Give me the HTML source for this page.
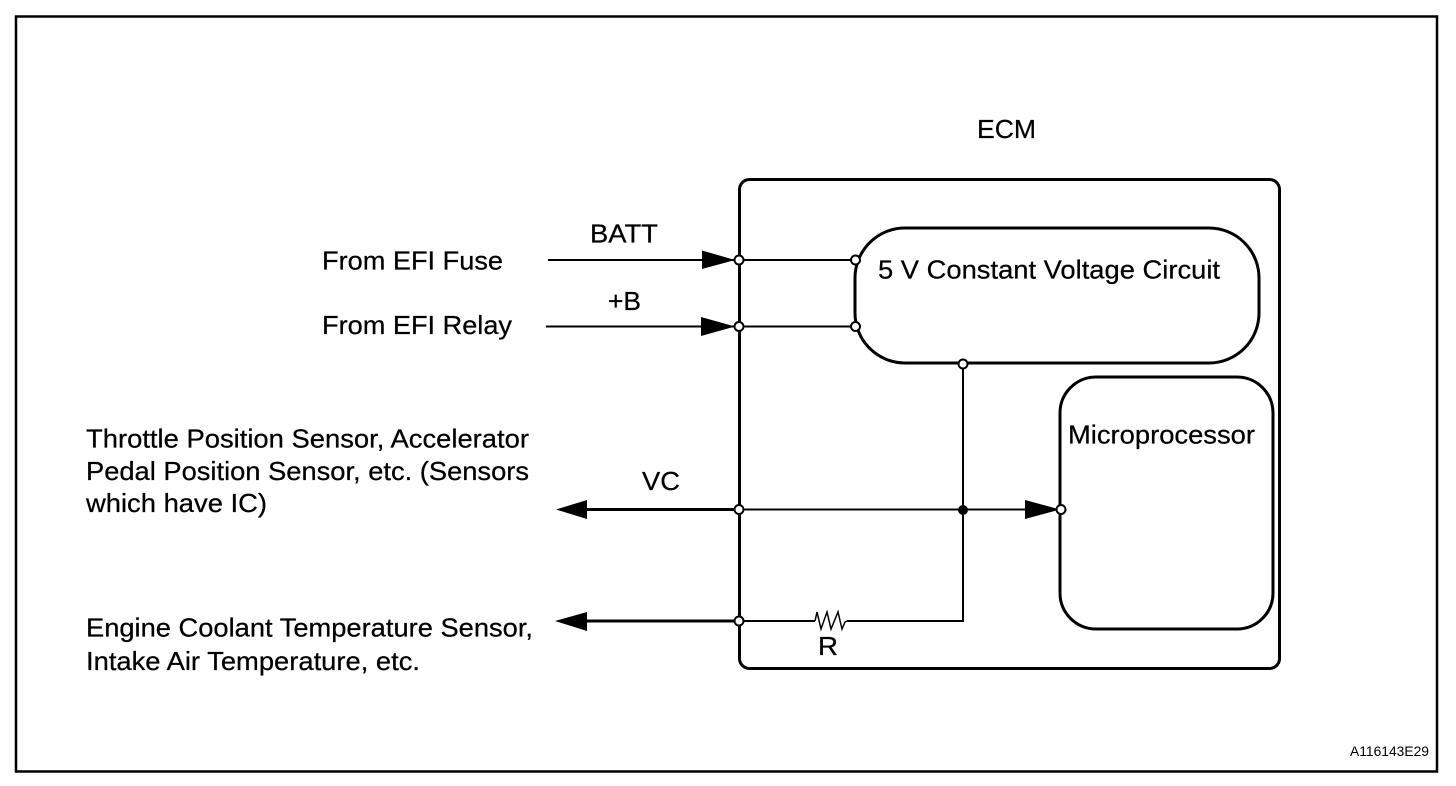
<!DOCTYPE html>
<html>
<head>
<meta charset="utf-8">
<style>
html,body{margin:0;padding:0;background:#fff;}
svg{display:block;}
text{font-family:"Liberation Sans",Arial,sans-serif;font-size:26px;fill:#000;stroke:#000;stroke-width:0.25px;}
</style>
</head>
<body>
<svg width="1456" height="786" viewBox="0 0 1456 786" xmlns="http://www.w3.org/2000/svg">
<rect width="1456" height="786" fill="#fff"/>
<rect x="16" y="16.5" width="1421" height="755" fill="none" stroke="#000" stroke-width="2.5"/>

<!-- ECM box -->
<rect x="739.5" y="179.5" width="540" height="489" rx="10" fill="none" stroke="#000" stroke-width="3"/>
<!-- 5V box -->
<rect x="855" y="228" width="404" height="135" rx="50" fill="none" stroke="#000" stroke-width="3"/>
<!-- Microprocessor box -->
<rect x="1060" y="377" width="213" height="252" rx="36" fill="none" stroke="#000" stroke-width="3"/>

<!-- wires -->
<g fill="none" stroke="#000" stroke-width="2">
<path d="M548 260H855"/>
<path d="M546 326.500H855"/>
<path d="M739 509.500H1060"/>
<path d="M963 363V621H847"/>
<path d="M815 621H739"/>
</g>
<path d="M847 621L845 622L842 629L838 612L831 629L827 612L821 629L817 612L815 621" fill="none" stroke="#000" stroke-width="1.500"/>
<g fill="none" stroke="#000" stroke-width="3">
<path d="M580 509.500H739"/>
<path d="M580 621H739"/>
</g>

<!-- arrowheads -->
<g fill="#000">
<path d="M702 250.500L735 260L702 269Z"/>
<path d="M701 317L735 326.500L701 336Z"/>
<path d="M1025 500L1060 509.500L1025 519Z"/>
<path d="M556 509.500L587 500V519Z"/>
<path d="M555 621L587 612V631Z"/>
<circle cx="963" cy="510" r="5"/>
</g>

<!-- terminals -->
<g fill="#fff" stroke="#000" stroke-width="2">
<circle cx="739" cy="260" r="4.500"/>
<circle cx="739" cy="326.500" r="4.500"/>
<circle cx="739" cy="509.500" r="4.500"/>
<circle cx="739" cy="621" r="4.500"/>
<circle cx="855.500" cy="260" r="4.500"/>
<circle cx="855.500" cy="326.500" r="4.500"/>
<circle cx="963" cy="364" r="4.500"/>
<circle cx="1061" cy="509.500" r="4.500"/>
</g>

<!-- labels -->
<text x="977" y="138" textLength="59" lengthAdjust="spacingAndGlyphs">ECM</text>
<text x="590" y="242.500" textLength="68" lengthAdjust="spacingAndGlyphs">BATT</text>
<text x="608" y="310" textLength="33" lengthAdjust="spacingAndGlyphs">+B</text>
<text x="322" y="269.500" textLength="181" lengthAdjust="spacingAndGlyphs">From EFI Fuse</text>
<text x="322" y="334" textLength="190" lengthAdjust="spacingAndGlyphs">From EFI Relay</text>
<text x="878" y="278.500" textLength="342" lengthAdjust="spacingAndGlyphs">5 V Constant Voltage Circuit</text>
<text x="1068" y="443.500" textLength="187" lengthAdjust="spacingAndGlyphs">Microprocessor</text>
<text x="642" y="490" textLength="38" lengthAdjust="spacingAndGlyphs">VC</text>
<text x="86" y="447.500" textLength="443" lengthAdjust="spacingAndGlyphs">Throttle Position Sensor, Accelerator</text>
<text x="86" y="480" textLength="443" lengthAdjust="spacingAndGlyphs">Pedal Position Sensor, etc. (Sensors</text>
<text x="86" y="512" textLength="181" lengthAdjust="spacingAndGlyphs">which have IC)</text>
<text x="86" y="636.500" textLength="447" lengthAdjust="spacingAndGlyphs">Engine Coolant Temperature Sensor,</text>
<text x="86" y="670" textLength="334" lengthAdjust="spacingAndGlyphs">Intake Air Temperature, etc.</text>
<text x="818" y="655" textLength="20" lengthAdjust="spacingAndGlyphs">R</text>
<text x="1350" y="756" textLength="79" lengthAdjust="spacingAndGlyphs" style="font-size:13.500px;stroke-width:0">A116143E29</text>
</svg>
</body>
</html>
